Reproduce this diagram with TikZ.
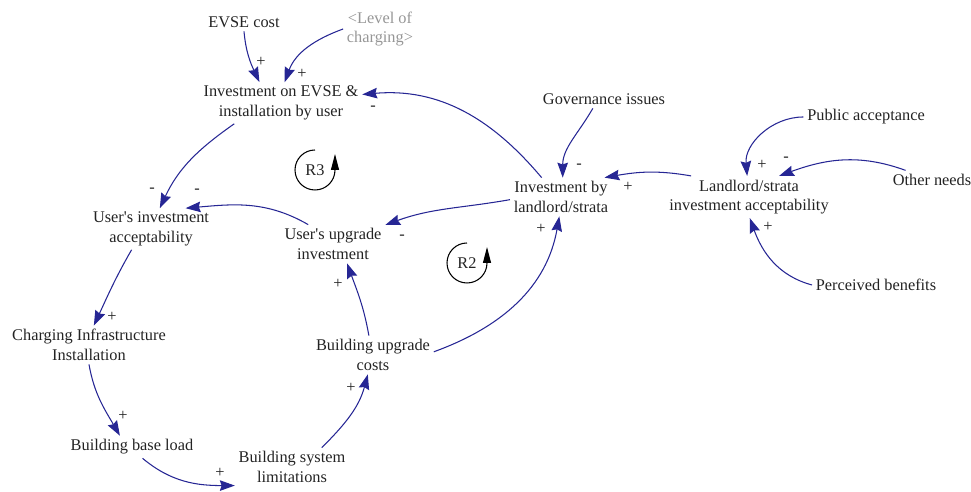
\documentclass[tikz,border=0pt]{standalone}
\usepackage{fontspec}
\newfontfamily\varfont{Liberation Serif}
\usetikzlibrary{arrows.meta}
\definecolor{linkblue}{RGB}{38,38,148}
\definecolor{vartext}{RGB}{35,35,35}
\definecolor{shadowtext}{RGB}{150,150,150}

\begin{document}
\begin{tikzpicture}[x=0.02cm,y=0.02cm,
	var/.style={align=center,inner sep=2pt,text=vartext,font=\varfont\fontsize{9.3}{11.1}\selectfont},
	sign/.style={inner sep=0pt,text=vartext,font=\varfont\fontsize{9.3}{11.1}\selectfont},
	link/.style={draw=linkblue,line width=0.6pt,-{Stealth[length=8.5pt,width=6pt,inset=1pt]}},
	loopmark/.style={line width=0.6pt,-{Triangle[length=9pt,width=4.5pt]}}]
			%%%%% START %%%%%
			\useasboundingbox (0,0) rectangle (971,492);
			
			% variables
			\node[var] (cost) at (244,470) {EVSE cost};
			\node[var,text=shadowtext] (level) at (380,463) {<Level of\\charging>};
			\node[var] (evse) at (281,389) {Investment on EVSE \&\\installation by user};
			\node[var] (gov) at (604,393) {Governance issues};
			\node[var] (pub) at (866,375) {Public acceptance};
			\node[var] (other) at (932,312) {Other needs};
			\node[var] (lsi) at (561,295) {Investment by\\landlord/strata};
			\node[var] (lsa) at (749,295) {Landlord/strata\\investment acceptability};
			\node[var] (ben) at (876,207) {Perceived benefits};
			\node[var] (uia) at (151,263) {User's investment\\acceptability};
			\node[var] (uui) at (333,248) {User's upgrade\\investment};
			\node[var] (cii) at (89,147) {Charging Infrastructure\\Installation};
			\node[var] (bbl) at (132,45) {Building base load};
			\node[var] (bsl) at (292,25) {Building system\\limitations};
			\node[var] (buc) at (373,137) {Building upgrade\\costs};
			
			% loop markers
			\node[sign] (r3) at (315,322) {R3};
			\draw[loopmark] (r3) ++(90:20) arc (90:360:20) -- ++(0,16);
			\node[sign] (r2) at (467,229) {R2};
			\draw[loopmark] (r2) ++(90:20) arc (90:360:20) -- ++(0,16);
			
			% links
			\draw[link] (cost.south) to[out=-85,in=115] (evse.136);
			\draw[link] (level.west) to[out=200,in=70] (evse.80);
			\draw[link] (lsi.135) to[out=130,in=5] (evse.6);
			\draw[link] (evse.204) to[out=215,in=65] (uia.67);
			\draw[link] (uui.142) to[out=150,in=5] (uia.31);
			\draw[link] (lsi.183) to[out=190,in=20] (uui.20);
			\draw[link] (gov.220) to[out=240,in=90] (lsi.85);
			\draw[link] (lsa.160) to[out=170,in=10] (lsi.24);
			\draw[link] (pub.west) to[out=180,in=95] (lsa.95);
			\draw[link] (other.160) to[out=160,in=20] (lsa.35);
			\draw[link] (ben.west) to[out=165,in=290] (lsa.272);
			\draw[link] (uia.227) to[out=240,in=65] (cii.76);
			\draw[link] (cii.south) to[out=-80,in=120] (bbl.137);
			\draw[link] (bbl.-47) to[out=-40,in=180] (bsl.198);
			\draw[link] (bsl.33) to[out=45,in=255] (buc.255);
			\draw[link] (buc.102) to[out=100,in=290] (uui.306);
			\draw[link] (buc.3) to[out=20,in=260] (lsi.265);
			
			% polarities
			\node[sign] (s1) at (261,430) {+};
			\node[sign] (s2) at (302,418) {+};
			\node[sign] (s3) at (373,384) {-};
			\node[sign] (s4) at (152,302) {-};
			\node[sign] (s5) at (197,301) {-};
			\node[sign] (s6) at (402,255) {-};
			\node[sign] (s7) at (579,326) {-};
			\node[sign] (s8) at (628,305) {+};
			\node[sign] (s9) at (762,327) {+};
			\node[sign] (s10) at (786,333) {-};
			\node[sign] (s11) at (768,265) {+};
			\node[sign] (s12) at (112,175) {+};
			\node[sign] (s13) at (123,76) {+};
			\node[sign] (s14) at (220,19) {+};
			\node[sign] (s15) at (351,104) {+};
			\node[sign] (s16) at (338,208) {+};
			\node[sign] (s17) at (541,263) {+};
			%%%%% END %%%%%
\end{tikzpicture}
\end{document}
